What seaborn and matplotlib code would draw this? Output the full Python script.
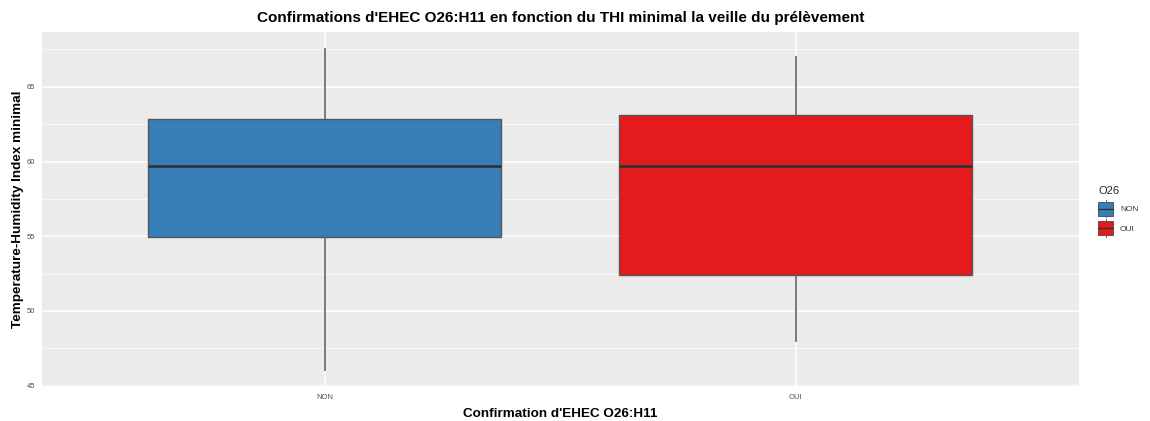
import numpy as np
import pandas as pd
import matplotlib
matplotlib.use("Agg")
import matplotlib.pyplot as plt
from matplotlib.patches import Patch, Rectangle
from matplotlib.lines import Line2D
from matplotlib.legend_handler import HandlerBase
from matplotlib.ticker import MultipleLocator
import seaborn as sns

# Five-number summaries (min, Q1, median, Q3, max) of the minimal THI
categories = ["NON", "OUI"]
thi_non = [46.0, 54.93, 59.69, 62.87, 67.58]
thi_oui = [47.93, 52.40, 59.69, 63.11, 67.07]
palette = {"NON": "#377EB8", "OUI": "#E41A1C"}

df = pd.DataFrame({
    "confirmation": ["NON"] * len(thi_non) + ["OUI"] * len(thi_oui),
    "thi": thi_non + thi_oui,
})
df["O26"] = df["confirmation"]

sns.set_theme(style="white")
plt.rcParams["font.family"] = ["Liberation Sans", "DejaVu Sans"]

fig = plt.figure(figsize=(11.5, 4.21), dpi=100)
ax = fig.add_axes([42 / 1150, 1 - 387.3 / 421, (1078.5 - 42) / 1150, (387.3 - 31.7) / 421])
ax.set_facecolor("#EBEBEB")

sns.boxplot(
    data=df, x="confirmation", y="thi", hue="O26", order=categories,
    palette=palette, dodge=False, width=0.75, whis=np.inf, ax=ax,
    linewidth=1.0, legend=False,
    boxprops=dict(edgecolor="#555555", linewidth=1.0),
    whiskerprops=dict(color="#707070", linewidth=1.3),
    capprops=dict(linewidth=0),
    medianprops=dict(color="#333333", linewidth=2.0),
    saturation=1,
)

ax.set_xlim(-0.6, 1.6)
ax.set_ylim(44.89, 68.69)
ax.yaxis.set_major_locator(MultipleLocator(5))
ax.yaxis.set_minor_locator(MultipleLocator(2.5))
ax.grid(which="major", color="white", linewidth=1.1)
ax.grid(which="minor", axis="y", color="white", linewidth=0.5)
ax.set_axisbelow(True)
for s in ax.spines.values():
    s.set_visible(False)

ax.tick_params(axis="both", which="major", length=3, width=0.8, color="#333333",
               labelsize=5.5, labelcolor="#4D4D4D", pad=2)
ax.tick_params(axis="y", which="minor", length=0)

ax.set_xlabel("Confirmation d'EHEC O26:H11", fontsize=9.7, fontweight="bold",
              color="black", labelpad=5)
ax.set_ylabel("Temperature-Humidity Index minimal", fontsize=9.7, fontweight="bold",
              color="black", labelpad=2)
ax.set_title("Confirmations d'EHEC O26:H11 en fonction du THI minimal la veille du prélèvement",
             fontsize=11, fontweight="bold", color="black", pad=7)


class BoxKeyHandler(HandlerBase):
    """Legend key drawn as a small box with whisker stubs and a median bar."""

    def create_artists(self, legend, orig_handle, xdescent, ydescent,
                       width, height, fontsize, trans):
        cx = -xdescent + width / 2
        y0 = -ydescent
        whisk = Line2D([cx, cx], [y0 - 1, y0 + height + 1], color="#707070", lw=0.8,
                       transform=trans)
        box = Rectangle((-xdescent, y0 + height * 0.02), width, height * 0.96,
                        facecolor=orig_handle.get_facecolor(), edgecolor="#555555",
                        lw=0.7, transform=trans)
        med = Line2D([-xdescent, -xdescent + width], [y0 + height / 2] * 2,
                     color="#333333", lw=1.0, transform=trans)
        return [whisk, box, med]


handles = [Patch(facecolor=palette[c], label=c) for c in categories]
leg = fig.legend(handles=handles, title="O26", loc="upper left",
                 bbox_to_anchor=(1095 / 1150, 1 - 183 / 421), frameon=False,
                 fontsize=6, title_fontsize=8, handlelength=1.8, handleheight=2.3,
                 labelspacing=0.6, handletextpad=0.8, borderaxespad=0,
                 handler_map={Patch: BoxKeyHandler()})
leg._legend_box.align = "left"
for t in leg.get_texts():
    t.set_color("#333333")

fig.savefig("out.png", dpi=100, facecolor="white")
